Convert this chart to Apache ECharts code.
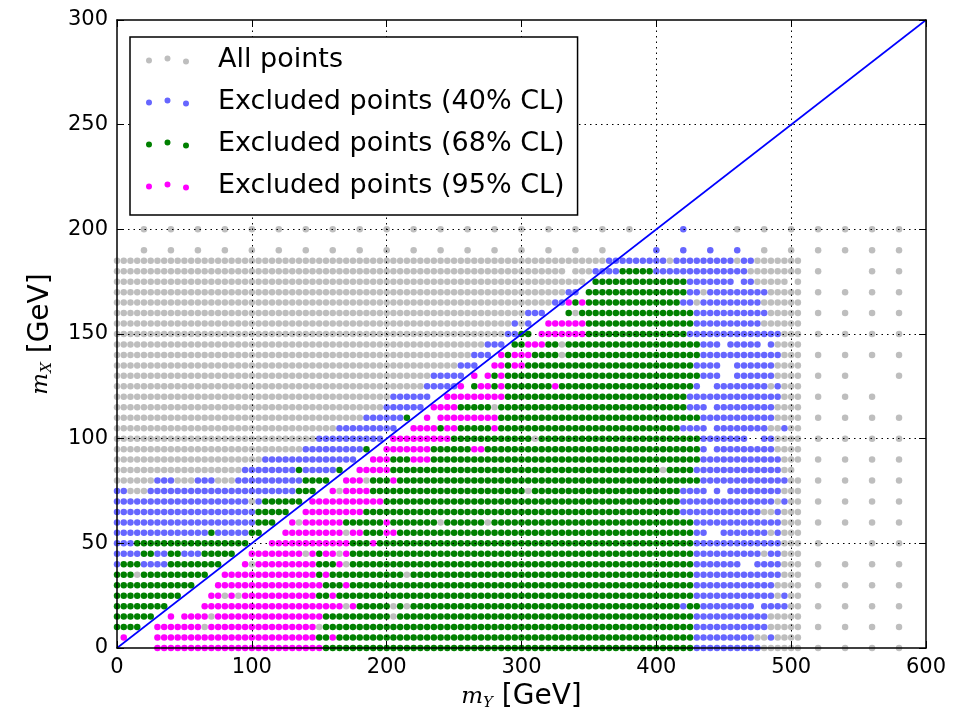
<!DOCTYPE html>
<html>
<head>
<meta charset="utf-8">
<script src="https://cdn.jsdelivr.net/npm/echarts@6/dist/echarts.min.js"></script>
<style>
html, body { margin: 0; padding: 0; background: #fff; }
#chart { width: 958px; height: 717px; }
</style>
</head>
<body>
<div id="chart"></div>
<script>
// axis ticks
var xTicks = [0, 100, 200, 300, 400, 500, 600];
var yTicks = [0, 50, 100, 150, 200, 250, 300];

// legend / series
var seriesNames = ['All points', 'Excluded points (40% CL)', 'Excluded points (68% CL)', 'Excluded points (95% CL)'];
var seriesKeys = ['a', 'b', 'g', 'm'];
var seriesColors = ['#bebebe', '#6666ff', '#008000', '#ff00ff'];

// diagonal m_Y = 2 m_X
var diagX = [0, 600];
var diagY = [0, 300];

// grid rows: class letter + x range (GeV), step 5 unless "/step"
// a = all points, b = 40% CL, g = 68% CL, m = 95% CL
var rowY = [200, 190, 185, 180, 175, 170, 165, 160, 155, 150, 145, 140, 135, 130, 125, 120, 115, 110, 105, 100,
            95, 90, 85, 80, 75, 70, 65, 60, 55, 50, 45, 40, 35, 30, 25, 20, 15, 10, 5, 0];
var rowRuns = [
  "a20-380/20 b420 a460-580/20",
  "a20-360/20 b400-460/20 a480-580/20",
  "a0-360 b365-405 a410 b415-455 a460 b465-470 a475-505",
  "a0-330 a340-350 b355-370 g375-395 b400-465 a470-505 a520 a560-580/20",
  "a0-345 g355-420 b425-455 b465-470 a475-495 a505",
  "a0-330 b335-340 g350-420 b425-430 a435 b440-480 a485-505 a520-580/20",
  "a0-320 b325-330 m335 g340 m345 g350-415 b420-425 a430 b435-475 a480-505",
  "a0-300 b305-315 g335 a340 g345-425 b430-480 a485-505 a520-580/20",
  "a0-290 b295 a300 b305 m320-345 g350-425 b430-475 a480-505",
  "a0-285 b290-295 g300-305 m315-345 g350-420 b425-490 a495-505 a520-580/20",
  "a0-270 b275-285 g295-300 m305-315 g320-325 a330 g335-430 b435-445 b455-475 b485 a490-505",
  "a0-260 b265-275 m285 g290 m295-305 g310-325 a330 g335-430 b435-490 a495-505 a520-580/20",
  "a0-250 b255-265 m280-285 g290 m295-300 g305-425 b430-445 b460-485 a490-505",
  "a0-230 b235-255 m265 m275 g280 m285 g290-430 b435-445 b460-485 a490-505 a520-540/20 a580",
  "a0-225 b230-250 m255 g265 m270-275 g280 m285 g290-320 m325 g330-425 b430 b445-480 a485 b490 a495-505",
  "a0-200 b205-230 m245-285 g290-420 b425-490 a495-505 a520-560/20",
  "a0-195 b200-225 m235-250 g255-275 a280 g285-420 b425-435 b445-485 a490-505",
  "a0-180 b185-210 g215 m230 m240-280 g285-430 b435-485 a490-505 a520-580/20",
  "a0-160 b165-205 m220-235 g240 m245-250 g255-275 m280 g285-415 b420-435 b445-480 a485-490 b495 a500-505",
  "a0-145 b150-195 m205-245 g250-305 a310 g315-430 b435-465 b480-485 a490-505 a520-580/20",
  "a0-135 b140-180 g185 m200-230 g235-260 m265-270 g275-430 b435 b445-485 a490-505",
  "a0-105 b110-175 m190-200 g205-215 m220-230 g235-430 b435-490 a495-505 a520-580/20",
  "a0-90 b95-130 g135 b140-160 g165 m180-200 g205-400 a405 g410-425 b430-490 a495-500",
  "a0-25 b30-40 a45-55 b60-70 a75-85 b90-135 g140-155 m170-180 a185 g190-200 m205 g210-430 b435-495 a500-505 a520-580/20",
  "b0-5 a10-20 b25-130 g135-145 m160 a165 m170-185 g190-300 a305 g310-415 b420-435 b445 b455-490 a495-505",
  "b0-95 a100 b105 g110-135 m145-195 g200-415 b420-485 a490 b495 a500-505 a520-580/20",
  "b0-100 g105-125 m140-180 g185-415 b420-475 a480-485 b490 a495-505",
  "b0-100 g105-115 m130 a135 m140-165 g170-195 m200 g205-235 a240 g245-270 a275 g280-425 b430-490 a495-505 a520-580/20",
  "b0-65 g70 b75-95 g100-105 m125-165 a170 m175-180 g185-195 m200-205 g210-425 b430-435 b450-480 a485 b490 a495-505",
  "b0-10 g15-95 m115-170 g175-185 m190 g195-425 b430-490 a495-505 a520 a560-580/20",
  "b0-15 g20-25 b30-35 g40-45 b50-60 g65-85 m100-135 a140 m145 g150 m155-160 a165 m170 g175-425 b430-475 a480 b485-490 a495-505",
  "b0 g5-15 b20-35 g40-75 m95 a100 m105-145 g150-160 m165 a170 g175-425 b430-460 b475-490 a495-505 a520-580/20",
  "g0-10 a15 g20-65 m80-145 g150 m155 g160-210 a215 g220-425 b430-490 a495-505",
  "g0-55 m75-150 g155-165 m170 g175-425 b430-485 a490-505 a520-580/20",
  "g0-45 m70-75 a80 m85 a90 m95-145 g150-155 m160 g165-425 b430-485 a490 b495 a500-505",
  "g0-35 m65-165 a170 m175 g180-200 a205 g210 a215 g220-415 b420 g425-430 b435-470 b480-495 a500-505 a520-580/20",
  "g0-25 m40 m50-65 a70 m75-150 g155-200 a205 g210-425 b430-480 a485-505",
  "g0-15 m30-60 a65 m70-145 a150 g155-425 b430-480 a485-505 a520-580/20",
  "m5 m30-145 g150-155 m160 g165-425 b430-470 a475-480 b485 a490-505",
  "m30-150 g155-425 b430-475 a480-505 a520-580/20"
];

function buildPoints() {
  var pts = { a: [], b: [], g: [], m: [] };
  rowRuns.forEach(function (run, i) {
    var y = rowY[i];
    run.split(' ').forEach(function (tok) {
      var k = tok.charAt(0);
      var body = tok.slice(1);
      var step = 5;
      if (body.indexOf('/') >= 0) {
        step = +body.split('/')[1];
        body = body.split('/')[0];
      }
      var se = body.split('-');
      var s = +se[0], e = se.length > 1 ? +se[1] : s;
      for (var x = s; x <= e; x += step) pts[k].push([x, y]);
    });
  });
  return pts;
}

var pts = buildPoints();

// three dots legend marker (matplotlib scatterpoints=3)
var dots3 = 'path://M0,4.8a3,3 0 1,0 6,0a3,3 0 1,0 -6,0M18.5,3a3,3 0 1,0 6,0a3,3 0 1,0 -6,0M37,5.8a3,3 0 1,0 6,0a3,3 0 1,0 -6,0';

var font = 'DejaVu Sans';
var nameStyle = {
  fontSize: 28, fontFamily: font, color: '#000',
  rich: {
    i: { fontSize: 23, fontFamily: 'DejaVu Serif', fontStyle: 'italic', color: '#000' },
    s: { fontSize: 15, fontFamily: 'DejaVu Serif', fontStyle: 'italic', color: '#000', verticalAlign: 'bottom', lineHeight: 16 },
    t: { fontSize: 28, fontFamily: font, color: '#000' }
  }
};

function frameAxis(pos, min, max, interval) {
  return {
    type: 'value', position: pos, min: min, max: max, interval: interval,
    axisLine: { show: true, onZero: false, lineStyle: { color: '#000', width: 1.5 } },
    axisTick: { show: true, inside: true, length: 7, lineStyle: { color: '#000', width: 1 } },
    axisLabel: { show: false },
    splitLine: { show: false },
    z: 10
  };
}

var xMain = frameAxis('bottom', xTicks[0], xTicks[xTicks.length - 1], xTicks[1] - xTicks[0]);
xMain.axisLabel = { show: true, color: '#000', fontSize: 21, fontFamily: font, margin: 9 };
xMain.name = '{i|m}{s|Y}{t| [GeV]}';
xMain.nameLocation = 'middle';
xMain.nameGap = 32;
xMain.nameTextStyle = nameStyle;

var yMain = frameAxis('left', yTicks[0], yTicks[yTicks.length - 1], yTicks[1] - yTicks[0]);
yMain.axisLabel = { show: true, color: '#000', fontSize: 21, fontFamily: font, margin: 9 };
yMain.name = '{i|m}{s|X}{t| [GeV]}';
yMain.nameLocation = 'middle';
yMain.nameRotate = 90;
yMain.nameGap = 62;
yMain.nameTextStyle = nameStyle;

var gridMarks = [];
xTicks.slice(1, -1).forEach(function (v) { gridMarks.push({ xAxis: v }); });
yTicks.slice(1, -1).forEach(function (v) { gridMarks.push({ yAxis: v }); });

var series = seriesKeys.map(function (k, i) {
  return {
    name: seriesNames[i], type: 'scatter', data: pts[k],
    symbolSize: 6.5, itemStyle: { color: seriesColors[i], opacity: 1 },
    silent: true, z: 2 + i * 0.1, clip: true
  };
});
series.push({
  name: 'diag', type: 'line', data: diagX.map(function (x, i) { return [x, diagY[i]]; }),
  symbol: 'none', silent: true, z: 5,
  lineStyle: { color: '#0000ff', width: 1.6 },
  markLine: {
    silent: true, symbol: ['none', 'none'], label: { show: false },
    lineStyle: { color: '#000', type: [1.5, 4], width: 1 },
    data: gridMarks
  }
});

var chart = echarts.init(document.getElementById('chart'));
chart.setOption({
  animation: false,
  backgroundColor: '#fff',
  grid: { left: 117, right: 32, top: 20, bottom: 69, containLabel: false },
  xAxis: [xMain, frameAxis('top', xTicks[0], xTicks[xTicks.length - 1], xTicks[1] - xTicks[0])],
  yAxis: [yMain, frameAxis('right', yTicks[0], yTicks[yTicks.length - 1], yTicks[1] - yTicks[0])],
  legend: {
    data: seriesNames, orient: 'vertical', left: 130, top: 37,
    padding: [9, 13, 15, 16], itemGap: 14, itemWidth: 43, itemHeight: 9,
    icon: dots3, backgroundColor: '#fff', borderColor: '#000', borderWidth: 1.5,
    textStyle: { fontSize: 27, fontFamily: font, color: '#000', padding: [0, 0, 0, 24], lineHeight: 28 },
    selectedMode: false, z: 20
  },
  series: series
});
</script>
</body>
</html>
